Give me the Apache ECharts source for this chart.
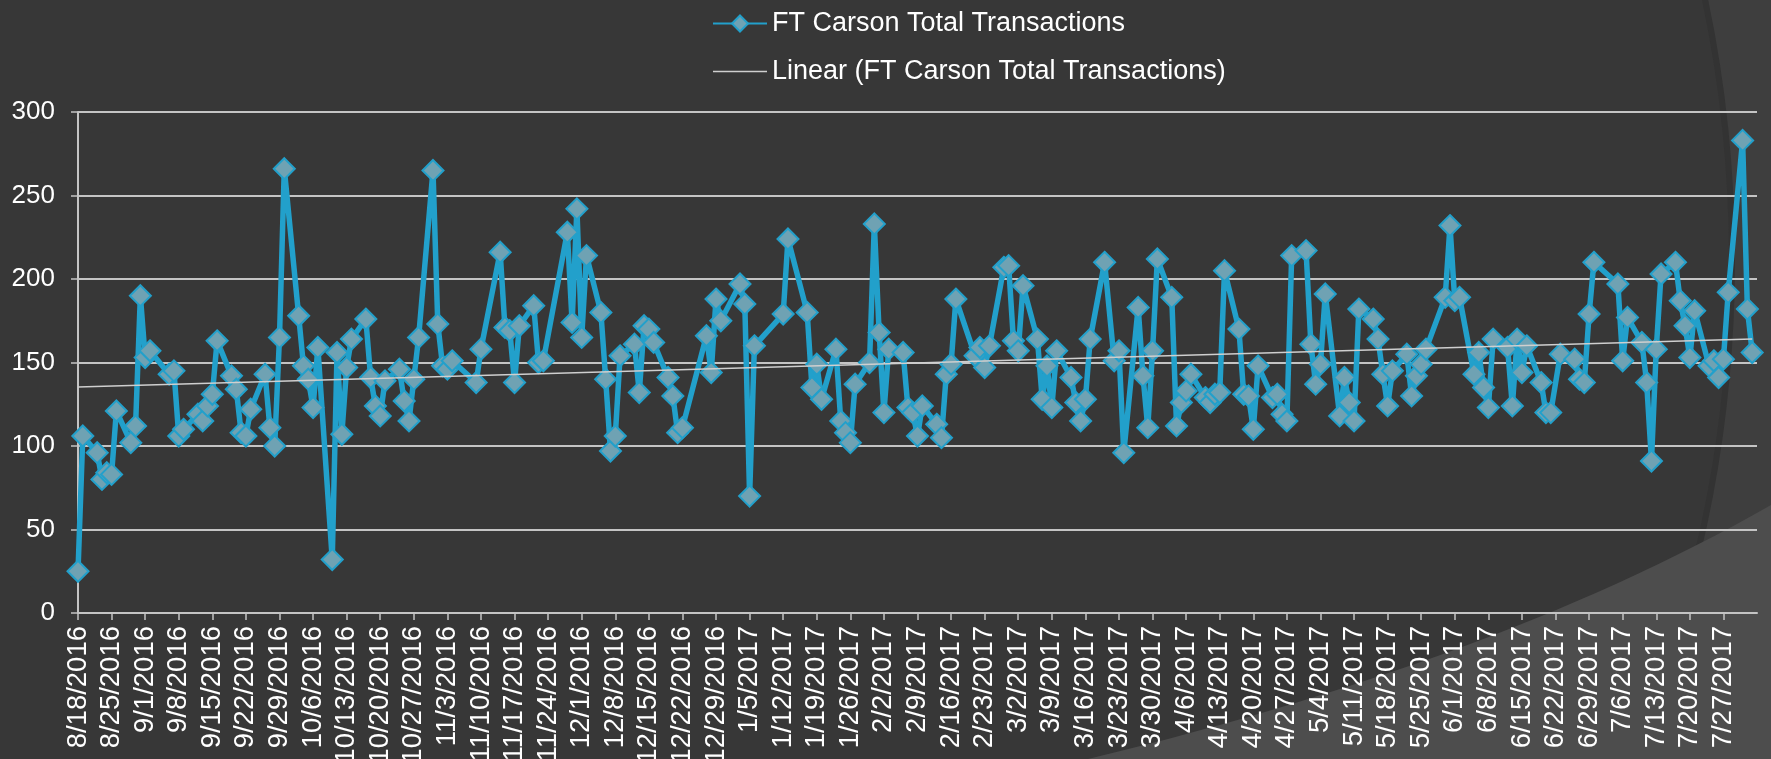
<!DOCTYPE html>
<html>
<head>
<meta charset="utf-8">
<script src="https://cdn.jsdelivr.net/npm/echarts@6/dist/echarts.min.js"></script>
<style>
  html, body { margin: 0; padding: 0; background: #373737; }
  #chart { width: 1771px; height: 759px; }
</style>
</head>
<body>
<div id="chart"></div>
<script>
// daily totals, business days only
const dates = [
  '8/18/2016', '8/19/2016', '8/22/2016', '8/23/2016', '8/24/2016', '8/25/2016', '8/26/2016', '8/29/2016', '8/30/2016', '8/31/2016',
  '9/1/2016', '9/2/2016', '9/6/2016', '9/7/2016', '9/8/2016', '9/9/2016', '9/12/2016', '9/13/2016', '9/14/2016', '9/15/2016', '9/16/2016',
  '9/19/2016', '9/20/2016', '9/21/2016', '9/22/2016', '9/23/2016', '9/26/2016', '9/27/2016', '9/28/2016', '9/29/2016', '9/30/2016',
  '10/3/2016', '10/4/2016', '10/5/2016', '10/6/2016', '10/7/2016', '10/10/2016', '10/11/2016', '10/12/2016', '10/13/2016', '10/14/2016',
  '10/17/2016', '10/18/2016', '10/19/2016', '10/20/2016', '10/21/2016', '10/24/2016', '10/25/2016', '10/26/2016', '10/27/2016', '10/28/2016', '10/31/2016',
  '11/1/2016', '11/2/2016', '11/3/2016', '11/4/2016', '11/9/2016', '11/10/2016', '11/14/2016', '11/15/2016', '11/16/2016', '11/17/2016', '11/18/2016',
  '11/21/2016', '11/22/2016', '11/23/2016', '11/28/2016', '11/29/2016', '11/30/2016',
  '12/1/2016', '12/2/2016', '12/5/2016', '12/6/2016', '12/7/2016', '12/8/2016', '12/9/2016', '12/12/2016', '12/13/2016', '12/14/2016', '12/15/2016', '12/16/2016',
  '12/19/2016', '12/20/2016', '12/21/2016', '12/22/2016', '12/27/2016', '12/28/2016', '12/29/2016', '12/30/2016',
  '1/3/2017', '1/4/2017', '1/5/2017', '1/6/2017', '1/12/2017', '1/13/2017', '1/17/2017', '1/18/2017', '1/19/2017', '1/20/2017',
  '1/23/2017', '1/24/2017', '1/25/2017', '1/26/2017', '1/27/2017', '1/30/2017', '1/31/2017',
  '2/1/2017', '2/2/2017', '2/3/2017', '2/6/2017', '2/7/2017', '2/8/2017', '2/9/2017', '2/10/2017', '2/13/2017', '2/14/2017', '2/15/2017', '2/16/2017', '2/17/2017',
  '2/21/2017', '2/22/2017', '2/23/2017', '2/24/2017', '2/27/2017', '2/28/2017',
  '3/1/2017', '3/2/2017', '3/3/2017', '3/6/2017', '3/7/2017', '3/8/2017', '3/9/2017', '3/10/2017', '3/13/2017', '3/14/2017', '3/15/2017', '3/16/2017', '3/17/2017',
  '3/20/2017', '3/22/2017', '3/23/2017', '3/24/2017', '3/27/2017', '3/28/2017', '3/29/2017', '3/30/2017', '3/31/2017',
  '4/3/2017', '4/4/2017', '4/5/2017', '4/6/2017', '4/7/2017', '4/10/2017', '4/11/2017', '4/12/2017', '4/13/2017', '4/14/2017',
  '4/17/2017', '4/18/2017', '4/19/2017', '4/20/2017', '4/21/2017', '4/24/2017', '4/25/2017', '4/26/2017', '4/27/2017', '4/28/2017',
  '5/1/2017', '5/2/2017', '5/3/2017', '5/4/2017', '5/5/2017', '5/8/2017', '5/9/2017', '5/10/2017', '5/11/2017', '5/12/2017',
  '5/15/2017', '5/16/2017', '5/17/2017', '5/18/2017', '5/19/2017', '5/22/2017', '5/23/2017', '5/24/2017', '5/25/2017', '5/26/2017', '5/30/2017', '5/31/2017',
  '6/1/2017', '6/2/2017', '6/5/2017', '6/6/2017', '6/7/2017', '6/8/2017', '6/9/2017', '6/12/2017', '6/13/2017', '6/14/2017', '6/15/2017', '6/16/2017',
  '6/19/2017', '6/20/2017', '6/21/2017', '6/23/2017', '6/26/2017', '6/27/2017', '6/28/2017', '6/29/2017', '6/30/2017',
  '7/5/2017', '7/6/2017', '7/7/2017', '7/10/2017', '7/11/2017', '7/12/2017', '7/13/2017', '7/14/2017', '7/17/2017', '7/18/2017', '7/19/2017', '7/20/2017', '7/21/2017',
  '7/24/2017', '7/25/2017', '7/26/2017', '7/27/2017', '7/28/2017', '7/31/2017',
  '8/1/2017', '8/2/2017'
]

const transactions = [
  25, 106, 96, 80, 84, 83, 121, 102, 112, 190,
  153, 157, 143, 145, 106, 110, 119, 115, 124, 131, 163,
  142, 134, 108, 106, 122, 143, 111, 100, 165, 266,
  178, 148, 140, 123, 159, 32, 156, 107, 147, 164,
  176, 141, 124, 118, 139, 146, 127, 115, 140, 165, 265,
  173, 148, 146, 151, 138, 158, 216, 171, 169, 138, 172,
  184, 150, 151, 228, 174, 242,
  165, 214, 180, 140, 97, 106, 154, 161, 132, 172, 170, 162,
  141, 130, 108, 111, 166, 144, 188, 175,
  197, 185, 70, 160, 179, 224, 180, 135, 149, 128,
  158, 115, 108, 102, 137, 150, 233,
  168, 120, 158, 156, 123, 120, 106, 124, 113, 105, 143, 149, 188,
  154, 159, 147, 160, 207, 208,
  163, 157, 196, 164, 128, 148, 123, 157, 141, 126, 115, 128, 164,
  210, 151, 157, 96, 183, 142, 111, 157, 212,
  189, 112, 126, 133, 143, 129, 126, 131, 132, 205,
  170, 131, 130, 110, 148, 129, 131, 119, 115, 214,
  217, 161, 137, 149, 191, 118, 141, 126, 115, 182,
  176, 164, 143, 124, 145, 155, 130, 142, 149, 158, 189, 232,
  187, 189, 143, 156, 135, 123, 164, 159, 124, 164, 144, 160,
  138, 120, 120, 155, 152, 140, 138, 179, 210,
  197, 151, 177, 162, 138, 91, 158, 203, 210, 187, 172, 153, 181,
  148, 151, 141, 152, 192, 283,
  182, 156
]

const seriesName = 'FT Carson Total Transactions'
const trendName = 'Linear (FT Carson Total Transactions)'
const axisStart = '8/18/2016'
const axisEnd = '8/3/2017'

const DAY = 86400000
function toTime (s) {
  const [m, d, y] = s.split('/').map(Number)
  return Date.UTC(y, m - 1, d)
}
const t0 = toTime(axisStart)
const dayOf = s => Math.round((toTime(s) - t0) / DAY)
function fmtDay (v) {
  const dt = new Date(t0 + v * DAY)
  return (dt.getUTCMonth() + 1) + '/' + dt.getUTCDate() + '/' + dt.getUTCFullYear()
}

const points = dates.map((s, i) => [dayOf(s), transactions[i]])

// least squares line, like the spreadsheet trendline
const n = points.length
let sx = 0, sy = 0, sxx = 0, sxy = 0
points.forEach(([x, y]) => { sx += x; sy += y; sxx += x * x; sxy += x * y })
const slope = (n * sxy - sx * sy) / (n * sxx - sx * sx)
const icpt = (sy - slope * sx) / n
const xFirst = points[0][0]
const xLast = points[n - 1][0]
const trend = [[xFirst, icpt + slope * xFirst], [xLast, icpt + slope * xLast]]

// lighter wedge in the lower right corner (slide theme decoration)
const wedge = []
for (let i = 0; i <= 30; i++) {
  const t = i / 30
  const x = (1 - t) * (1 - t) * 1088 + 2 * t * (1 - t) * 1500 + t * t * 1771
  const y = (1 - t) * (1 - t) * 759 + 2 * t * (1 - t) * 660 + t * t * 505
  wedge.push([x, y])
}
wedge.push([1771, 759])

const font = 'Liberation Sans, Arial, sans-serif'
const blue = '#22a0cb'

const myEchart = echarts.init(document.getElementById('chart'))
const option = {
  backgroundColor: '#3e3e3e',
  animation: false,
  textStyle: { fontFamily: font },
  graphic: [
    {
      type: 'circle',
      z: -10,
      silent: true,
      shape: { cx: 470, cy: 260, r: 1262 },
      style: { fill: '#373737', stroke: '#333333', lineWidth: 6 }
    },
    {
      type: 'polygon',
      z: -9,
      silent: true,
      shape: { points: wedge },
      style: { fill: '#4d4d4d' }
    }
  ],
  legend: {
    orient: 'vertical',
    left: 707,
    top: 5,
    itemWidth: 54,
    itemHeight: 20,
    itemGap: 21,
    textStyle: { color: '#ffffff', fontSize: 27, fontFamily: font },
    data: [
      seriesName,
      // trendline key is a plain thin line
      { name: trendName, icon: 'path://M0,0 L54,0 L54,1.6 L0,1.6 Z' }
    ]
  },
  grid: {
    left: 78,
    right: 14,
    top: 112,
    bottom: 146,
    containLabel: false,
    outerBoundsMode: 'none'
  },
  xAxis: {
    type: 'value',
    min: 0,
    max: dayOf(axisEnd),
    interval: 7,
    axisLine: { show: true, lineStyle: { color: '#c4c4c4', width: 2 } },
    axisTick: { show: true, length: 7, lineStyle: { color: '#c4c4c4', width: 1.5 } },
    splitLine: { show: false },
    axisLabel: {
      rotate: 90,
      margin: 13,
      color: '#ffffff',
      fontSize: 27.5,
      fontFamily: font,
      showMaxLabel: false,
      formatter: v => fmtDay(v)
    }
  },
  yAxis: {
    type: 'value',
    min: 0,
    max: 300,
    interval: 50,
    axisLine: { show: true, lineStyle: { color: '#c4c4c4', width: 2 } },
    axisTick: { show: true, length: 7, lineStyle: { color: '#c4c4c4', width: 1.5 } },
    splitLine: { show: true, lineStyle: { color: '#c4c4c4', width: 2 } },
    axisLabel: { color: '#ffffff', fontSize: 26, fontFamily: font, margin: 23 }
  },
  series: [
    {
      name: seriesName,
      type: 'line',
      data: points,
      symbol: 'diamond',
      symbolSize: 21,
      lineStyle: { color: blue, width: 5.5 },
      itemStyle: { color: '#6fa2b3', borderColor: blue, borderWidth: 2 },
      z: 3
    },
    {
      name: trendName,
      type: 'line',
      data: trend,
      symbol: 'none',
      lineStyle: { color: '#cfcfcf', width: 1.5 },
      itemStyle: { color: '#cfcfcf' },
      z: 4
    }
  ]
}
myEchart.setOption(option)
</script>
</body>
</html>
